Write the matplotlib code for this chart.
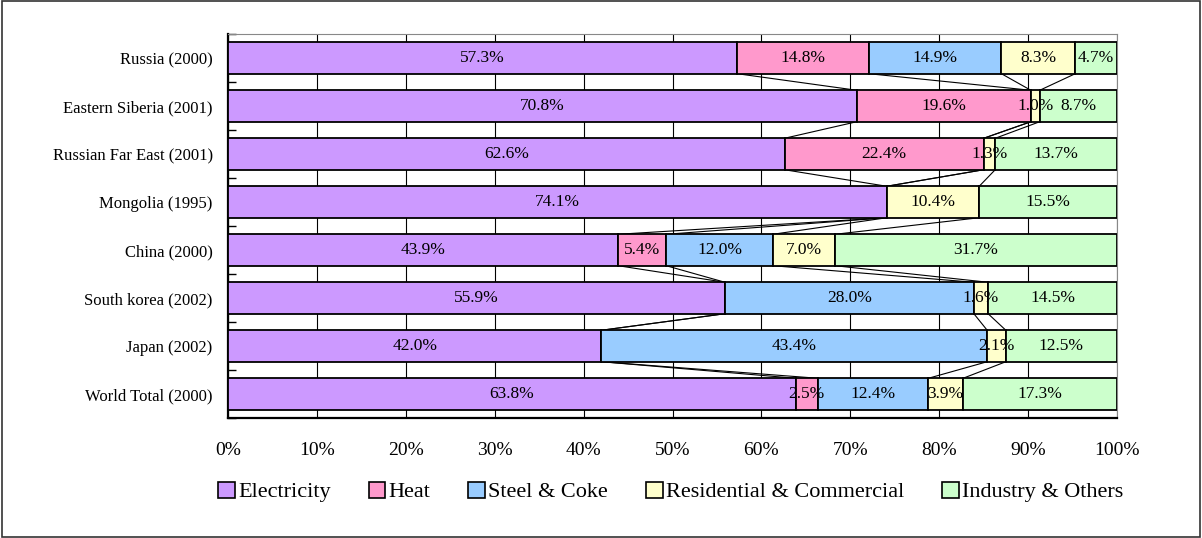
import matplotlib
matplotlib.use("Agg")
import matplotlib.pyplot as plt
import numpy as np
from matplotlib.patches import Rectangle, Patch

plt.rcParams['font.family'] = ['Liberation Serif', 'DejaVu Serif']

categories = ["Russia (2000)", "Eastern Siberia (2001)", "Russian Far East (2001)",
              "Mongolia (1995)", "China (2000)", "South korea (2002)",
              "Japan (2002)", "World Total (2000)"]
series_names = ["Electricity", "Heat", "Steel & Coke",
                "Residential & Commercial", "Industry & Others"]
electricity = [57.3, 70.8, 62.6, 74.1, 43.9, 55.9, 42.0, 63.8]
heat        = [14.8, 19.6, 22.4, 0.0, 5.4, 0.0, 0.0, 2.5]
steel_coke  = [14.9, 0.0, 0.0, 0.0, 12.0, 28.0, 43.4, 12.4]
residential = [8.3, 1.0, 1.3, 10.4, 7.0, 1.6, 2.1, 3.9]
industry    = [4.7, 8.7, 13.7, 15.5, 31.7, 14.5, 12.5, 17.3]
colors = ["#CC99FF", "#FF99CC", "#99CCFF", "#FFFFCC", "#CCFFCC"]
xticklabels = ["0%", "10%", "20%", "30%", "40%", "50%", "60%", "70%", "80%", "90%", "100%"]

data = np.array([electricity, heat, steel_coke, residential, industry])
totals = data.sum(axis=0)
frac = data / totals * 100.0

fig = plt.figure(figsize=(12.02, 5.38), dpi=100)
ax = fig.add_axes([228/1202, 1-418/538, (1117-228)/1202, (418-34)/538])

y = np.arange(len(categories))
h = 0.655
left = np.zeros(len(categories))
for k in range(len(series_names)):
    ax.barh(y, frac[k], left=left, height=h, color=colors[k],
            edgecolor='black', linewidth=1.3, label=series_names[k], zorder=3)
    for i in range(len(categories)):
        if data[k][i] > 0:
            ax.text(left[i] + frac[k][i]/2, y[i], f"{data[k][i]:.1f}%",
                    ha='center', va='center', fontsize=12.5, zorder=5)
    left = left + frac[k]

# series lines
cum = np.cumsum(frac, axis=0)
for k in range(len(series_names) - 1):
    for i in range(len(categories) - 1):
        ax.plot([cum[k][i], cum[k][i+1]], [y[i] + h/2, y[i+1] - h/2],
                color='black', linewidth=0.8, zorder=2)

ax.set_xlim(0, 100)
ax.set_ylim(len(categories) - 0.5, -0.5)
ax.set_xticks(np.arange(0, 101, 10))
ax.set_xticklabels(xticklabels, fontsize=14)
ax.set_yticks(y)
ax.set_yticklabels(categories, fontsize=12)
ax.tick_params(axis='y', length=0, pad=11)
ax.tick_params(axis='x', length=0, pad=17)
ax.set_yticks(np.arange(-0.5, len(categories), 1.0), minor=True)
ax.tick_params(axis='y', which='minor', direction='in', length=6, width=1.0, color='black')
ax.grid(axis='x', color='black', linewidth=0.8, zorder=0)
ax.set_axisbelow(True)
for s in ['top', 'right']:
    ax.spines[s].set_color('#888888')
    ax.spines[s].set_linewidth(0.8)
for s in ['left', 'bottom']:
    ax.spines[s].set_color('black')
    ax.spines[s].set_linewidth(1.6)

handles = [Patch(facecolor=colors[k], edgecolor='black', linewidth=1.2) for k in range(5)]
fig.legend(handles, series_names, loc='center', bbox_to_anchor=(0.558, 1-492/538),
           ncol=5, frameon=False, fontsize=16, handlelength=0.75, handleheight=0.75,
           handletextpad=0.15, columnspacing=1.7)

fig.patches.append(Rectangle((2/1202, 1/538), 1198/1202, 536/538, transform=fig.transFigure,
                             fill=False, edgecolor='#333333', linewidth=1.2))

fig.savefig("out.png", dpi=100)
